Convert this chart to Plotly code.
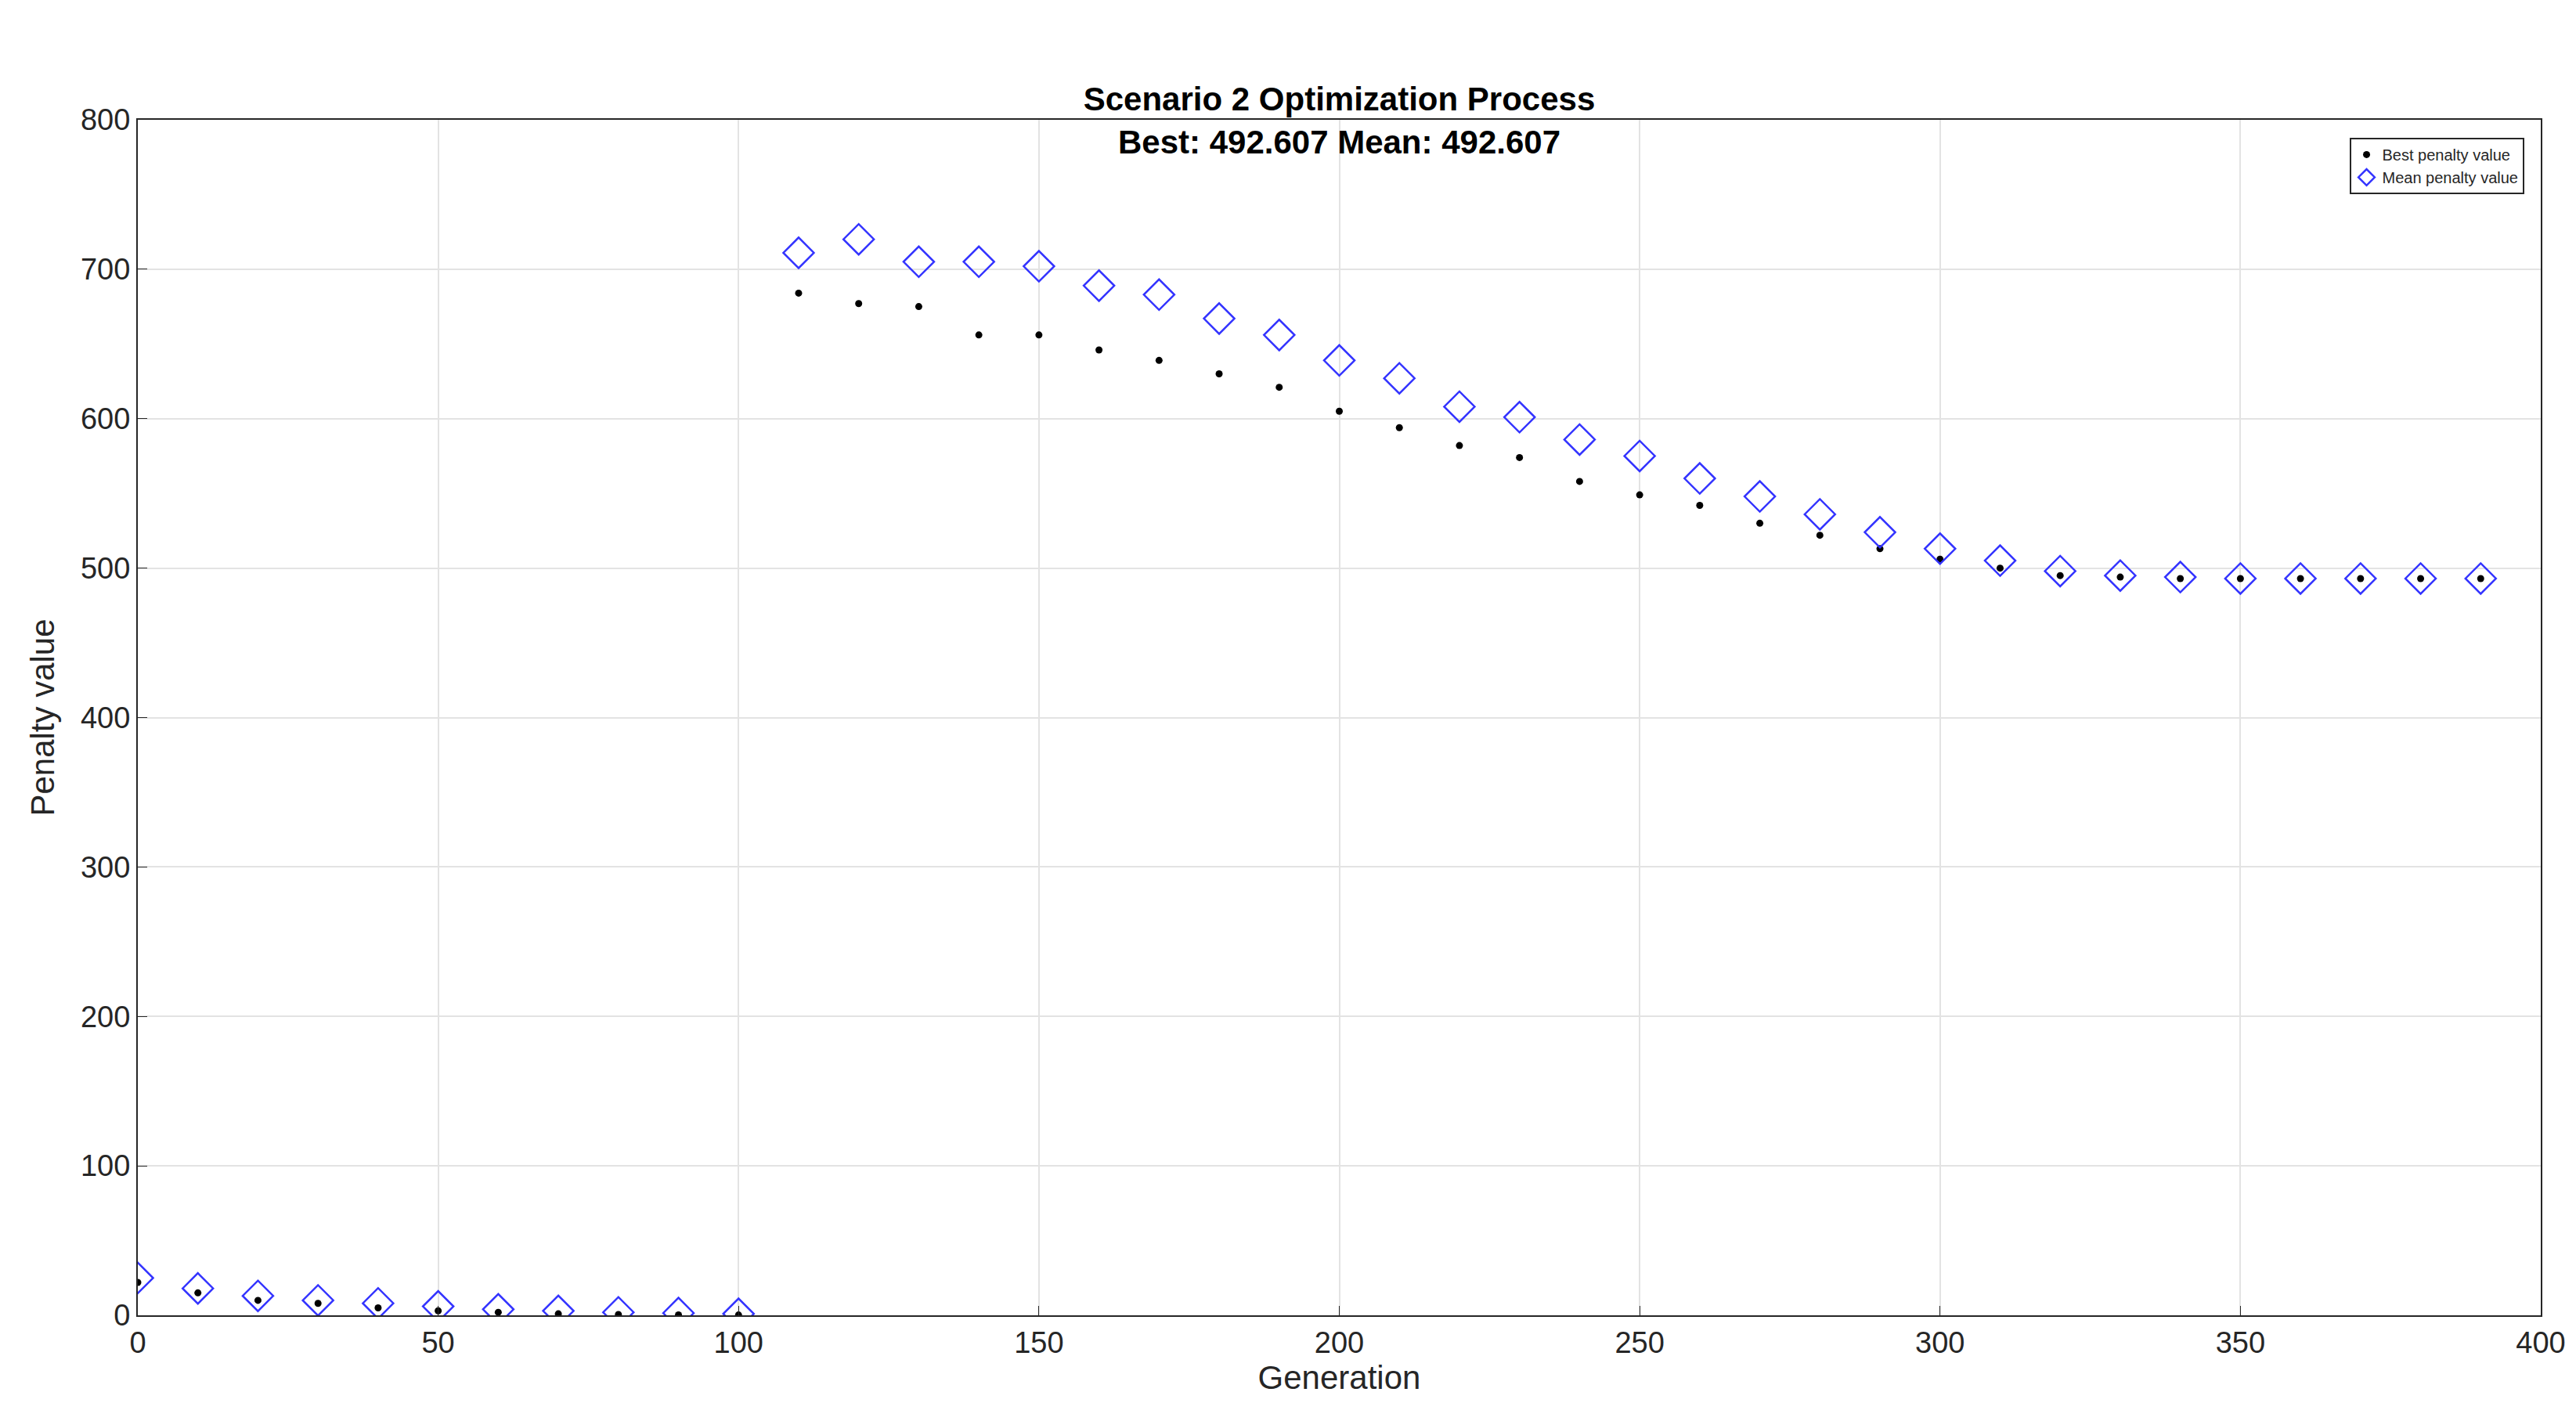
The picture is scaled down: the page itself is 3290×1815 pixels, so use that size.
import plotly.graph_objects as go

# Generations and penalty values
generation = list(range(0, 400, 10))
best_penalty = [22, 15, 10, 8, 5, 3, 2, 1, 0.5, 0.3, 0.2,
                684, 677, 675, 656, 656, 646, 639, 630, 621, 605, 594, 582, 574, 558,
                549, 542, 530, 522, 513, 506, 500, 495, 494, 493, 493, 493, 493, 493, 493]
mean_penalty = [25, 18, 13, 10, 8, 6, 4, 3, 2, 1.5, 1,
                711, 720, 705, 705, 702, 689, 683, 667, 656, 639, 627, 608, 601, 586,
                575, 560, 548, 536, 524, 513, 505, 498, 495, 494, 493, 493, 493, 493, 493]

fig = go.Figure()
fig.add_trace(go.Scatter(x=generation, y=best_penalty, mode="markers", name="Best penalty value",
                         marker=dict(color="black", size=9)))
fig.add_trace(go.Scatter(x=generation, y=mean_penalty, mode="markers", name="Mean penalty value",
                         marker=dict(symbol="diamond-open", color="#3333ff", size=30, line=dict(width=2.5))))

axis_style = dict(showline=True, linecolor="#262626", linewidth=2, mirror=True, ticks="inside",
                  ticklen=12, tickcolor="#262626", showgrid=True, gridcolor="#e3e3e3", gridwidth=2,
                  zeroline=False, tickfont=dict(size=38, color="#262626"))

fig.update_layout(
    width=3290, height=1815, plot_bgcolor="white", paper_bgcolor="white",
    font=dict(family="Arial, Liberation Sans", color="#262626"),
    margin=dict(l=168, r=53, t=145, b=143),
    title=dict(text="<b>Scenario 2 Optimization Process<br>Best: 492.607 Mean: 492.607</b>",
               x=0.5, xanchor="center", xref="paper", yref="paper", y=1, yanchor="bottom",
               pad=dict(b=12), font=dict(size=42, color="black")),
    xaxis=dict(range=[0, 400], dtick=50, title=dict(text="Generation", font=dict(size=42), standoff=10), **axis_style),
    yaxis=dict(range=[0, 800], dtick=100, title=dict(text="Penalty value", font=dict(size=42), standoff=20), **axis_style),
    legend=dict(x=0.993, y=0.985, xanchor="right", yanchor="top", bgcolor="white",
                bordercolor="#262626", borderwidth=2, font=dict(size=20, color="#262626")),
)

fig.write_html("out.html")
